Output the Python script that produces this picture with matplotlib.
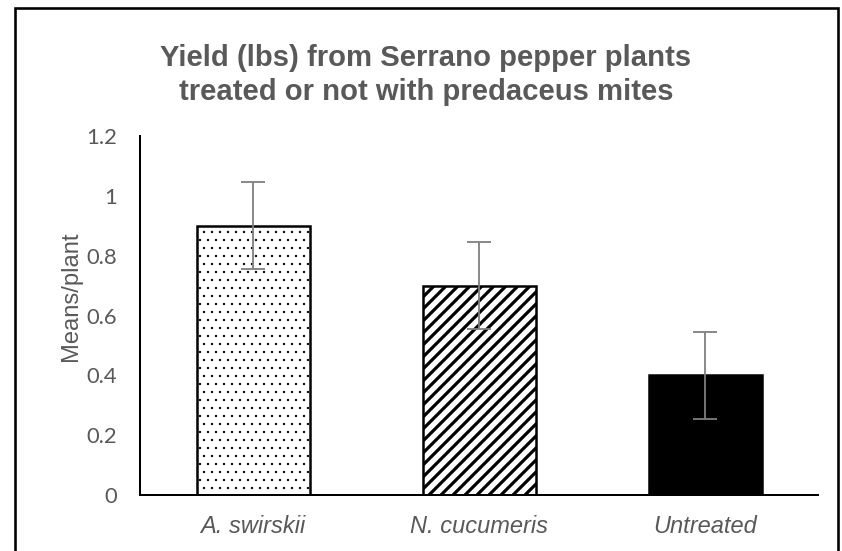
import numpy as np
import matplotlib.pyplot as plt
from matplotlib.patches import Rectangle

categories = ['A. swirskii', 'N. cucumeris', 'Untreated']
means = [0.9, 0.7, 0.4]
errors = [0.145, 0.145, 0.145]
hatches = ['...', '////', '']
fills = ['white', 'white', 'black']
hatch_widths = [0.4, 1.6, 1.0]

grey = '#595959'

dpi = 144
fig = plt.figure(figsize=(842 / dpi, 551 / dpi), dpi=dpi)
ax = fig.add_axes([140 / 842, 56 / 551, 678 / 842, 359 / 551])

x = np.arange(len(categories))
for i in range(len(categories)):
    with plt.rc_context({'hatch.linewidth': hatch_widths[i]}):
        bars = ax.bar(x[i], means[i], width=0.5, color=fills[i],
                      edgecolor='black', linewidth=1.25, hatch=hatches[i],
                      zorder=2)
        for b in bars:
            if hasattr(b, 'set_hatch_linewidth'):
                b.set_hatch_linewidth(hatch_widths[i])
ax.errorbar(x, means, yerr=errors, fmt='none', ecolor='#7f7f7f',
            elinewidth=0.9, capsize=6, capthick=0.9, zorder=3)

ax.set_xlim(-0.5, 2.5)
ax.set_ylim(0, 1.2)
ax.set_yticks(np.arange(0, 1.21, 0.2))
ax.set_yticklabels(['0', '0.2', '0.4', '0.6', '0.8', '1', '1.2'],
                   fontfamily='Lato', fontsize=11, color=grey)
ax.set_xticks(x)
ax.set_xticklabels(categories, fontfamily='Liberation Sans', style='italic',
                   fontsize=11.8, color=grey)
ax.tick_params(axis='both', length=0)
ax.tick_params(axis='y', pad=11.5)
ax.tick_params(axis='x', pad=10)
for s in ['top', 'right']:
    ax.spines[s].set_visible(False)
ax.spines['left'].set_linewidth(1.0)
ax.spines['bottom'].set_linewidth(1.0)
ax.set_ylabel('Means/plant', fontfamily='Liberation Sans', fontsize=11.9,
              color=grey)
ax.yaxis.set_label_coords(-0.0855, 0.554)

fig.text(426 / 842, 1 - 75 / 551,
         'Yield (lbs) from Serrano pepper plants\ntreated or not with predaceus mites',
         ha='center', va='center', fontfamily='Liberation Sans',
         fontweight='bold', fontsize=14.6, color=grey, linespacing=1.24)

fig.patches.append(Rectangle((15 / 842, -0.02), 823 / 842, 1 - 8 / 551 + 0.02,
                             transform=fig.transFigure, fill=False,
                             edgecolor='black', linewidth=1.3))

fig.savefig('out.png', dpi=dpi)
